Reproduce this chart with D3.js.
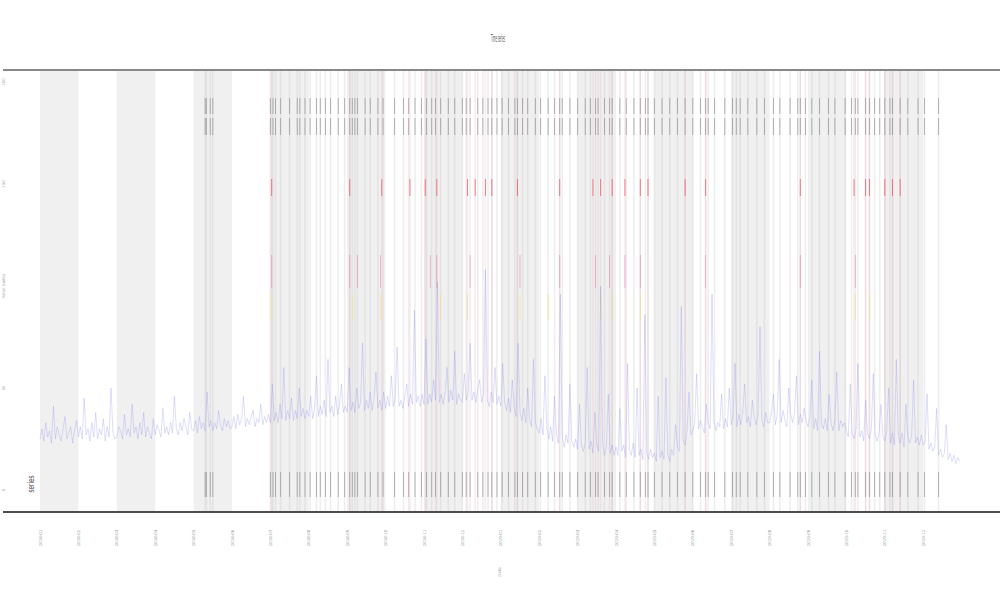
<!DOCTYPE html>
<html><head><meta charset="utf-8">
<script src="https://cdn.jsdelivr.net/npm/d3@7/dist/d3.min.js"></script>
<style>body{margin:0;background:#fff;font-family:"DejaVu Sans",sans-serif}</style>
</head><body><svg id="c" width="1000" height="600"></svg>
<script>
// ---- data ----
const periodLabels = ["2018-01","2018-02","2018-03","2018-04","2018-05","2018-06","2018-07","2018-08","2018-09","2018-10","2018-11","2018-12",
  "2019-01","2019-02","2019-03","2019-04","2019-05","2019-06","2019-07","2019-08","2019-09","2019-10","2019-11","2019-12"];
const yTicks = [0, 50, 100, 150, 200];
const series = [
25,30,24,33,26,29,23,41,25,31,27,24,30,36,25,28,31,23,29,34,
26,31,25,45,27,30,24,33,26,38,25,30,27,35,24,31,26,50,28,25,
26,31,29,25,37,27,30,26,42,28,31,25,33,27,38,26,31,28,25,35,
27,32,29,26,40,28,31,27,33,28,46,30,27,33,29,35,31,27,38,30,
29,34,28,36,30,33,29,48,31,34,29,33,30,39,32,29,35,31,34,30,
31,36,30,37,32,35,46,31,35,32,36,39,31,35,33,42,32,36,33,37,
33,52,34,38,33,42,35,60,34,39,35,45,34,39,35,50,36,40,35,39,
36,46,35,40,56,36,41,37,44,36,64,38,41,36,46,37,42,52,38,41,
38,60,39,43,38,50,40,43,72,39,44,40,48,39,45,58,40,44,39,48,
40,46,41,56,41,45,70,41,44,40,46,52,41,47,42,88,43,46,41,47,
42,74,42,47,43,54,44,102,43,47,42,48,60,43,49,44,68,42,47,44,
43,57,44,48,72,44,48,43,49,54,43,47,108,44,41,48,43,60,42,46,
41,62,43,39,45,38,54,40,36,72,38,34,40,33,50,35,31,64,33,30,
28,35,27,56,30,25,31,24,46,27,23,96,26,21,27,23,52,24,21,25,
20,42,22,19,23,60,20,24,18,38,22,19,100,23,17,21,47,18,22,17,
21,17,40,19,22,16,62,20,17,23,16,50,17,20,15,86,18,15,20,16,
18,14,46,16,19,15,55,17,14,20,17,32,21,19,90,24,22,29,48,27,
29,33,57,30,34,31,28,42,33,30,96,34,29,33,31,47,30,35,31,50,
32,36,62,31,37,32,38,52,33,36,31,44,35,32,37,80,34,31,38,33,
33,38,47,32,37,64,33,39,34,31,50,37,33,38,56,32,37,33,40,34,
31,36,54,30,35,29,68,33,30,35,29,47,33,29,34,58,29,34,31,33,
29,26,52,28,25,30,62,26,29,24,44,28,25,30,57,27,24,28,42,26,
24,29,50,23,28,22,64,27,23,28,21,42,26,23,27,54,23,26,22,27,
22,24,47,20,23,19,21,40,17,20,16,18,32,15,18,14,17,13,16,14
];
const eventDays = [129,130,133,135,180,182,184,188,195,201,203,207,211,216,219,223,227,233,238,242,244,246,248,254,258,264,268,277,284,288,293,298,302,306,309,313,319,324,330,333,336,342,346,350,353,357,361,366,371,373,377,381,387,391,397,402,406,408,414,420,426,430,434,436,441,445,447,453,458,464,469,473,475,480,486,492,498,504,510,516,520,522,527,535,541,544,547,553,560,566,573,578,586,592,594,598,603,609,616,621,629,634,637,639,645,648,652,656,660,664,666,672,678,686,691,702];
const severeDays = [181,242,267,289,301,310,334,340,348,353,373,406,432,438,447,457,469,475,504,520,594,636,645,648,660,666,672];
const moderateDays = [181,242,248,266,305,310,336,375,406,434,445,457,469,520,594,637];
const warnDays = [181,244,266,313,334,375,397,438,447,469,637,648];
const titleText = "Time series";
const xTitle = "Date";
const yTitle = "Value";
const legendText = "series";

// ---- chart ----
const svg = d3.select("#c");
const x = d3.scaleLinear().domain([0, 720]).range([40, 961.6]);
const y = d3.scaleLinear().domain([0, 200]).range([490, 82]);
const plotTop = 71, plotBottom = 511;
const step = 720 / series.length;

// alternating bands
svg.append("g").selectAll("rect").data(periodLabels.map((d,i)=>i).filter(i=>i%2===0))
  .join("rect").attr("x", i=>x(i*30)).attr("width", x(30)-x(0))
  .attr("y", plotTop).attr("height", plotBottom-plotTop).attr("fill", "#f0f0f0");

// faint event columns
svg.append("g").selectAll("line").data(eventDays).join("line")
  .attr("x1", d=>x(d)).attr("x2", d=>x(d)).attr("y1", plotTop).attr("y2", plotBottom)
  .attr("stroke", "#c8c8c8").attr("stroke-width", 1.6).attr("stroke-opacity", 0.3);
svg.append("g").selectAll("line").data(severeDays).join("line")
  .attr("x1", d=>x(d)).attr("x2", d=>x(d)).attr("y1", plotTop).attr("y2", plotBottom)
  .attr("stroke", "#f0b8c8").attr("stroke-width", 1.6).attr("stroke-opacity", 0.3);

// event ticks
function ticks(data, y1, y2, color, op) {
  svg.append("g").selectAll("line").data(data).join("line")
    .attr("x1", d=>x(d)).attr("x2", d=>x(d)).attr("y1", y1).attr("y2", y2)
    .attr("stroke", color).attr("stroke-width", 0.8).attr("stroke-opacity", op);
}
ticks(eventDays, 98, 114, "#555", 0.5);
ticks(eventDays, 118, 135, "#555", 0.5);
ticks(eventDays, 472, 497, "#555", 0.5);
ticks(severeDays, 179, 196, "#ee2233", 0.7);
ticks(moderateDays, 255, 288, "#e04060", 0.4);
ticks(warnDays, 294, 320, "#f0e050", 0.55);

// series line
svg.append("path").datum(series)
  .attr("d", d3.line().x((d,i)=>x(i*step)).y(d=>y(d)))
  .attr("fill", "none").attr("stroke", "#7a7aee").attr("stroke-width", 0.5).attr("stroke-opacity", 0.5);

// frame lines
svg.append("line").attr("x1", 3).attr("x2", 1000).attr("y1", 70).attr("y2", 70).attr("stroke", "#888").attr("stroke-width", 2);
svg.append("line").attr("x1", 3).attr("x2", 1000).attr("y1", 512).attr("y2", 512).attr("stroke", "#111").attr("stroke-width", 1.5);

// y axis labels (tiny, rotated)
svg.append("g").selectAll("text").data(yTicks.filter(v=>v!==100)).join("text")
  .attr("transform", d=>`translate(5,${y(d)}) rotate(-90)`)
  .attr("text-anchor", "middle").attr("font-size", 4).attr("fill", "#aaa").text(d=>d);
svg.append("text").attr("transform", `translate(5,${y(100)}) rotate(-90)`)
  .attr("text-anchor", "middle").attr("font-size", 4).attr("fill", "#aaa").text(yTitle + " (units)");

// x axis labels
svg.append("g").selectAll("text").data(periodLabels).join("text")
  .attr("transform", (d,i)=>`translate(${x(i*30)+1.5},538) rotate(-90)`)
  .attr("text-anchor", "middle").attr("font-size", 4).attr("fill", "#999").text(d=>d);
svg.append("text").attr("transform", "translate(501,572) rotate(-90)")
  .attr("text-anchor", "middle").attr("font-size", 4).attr("fill", "#999").text(xTitle);

// title
svg.append("text").attr("x", 498).attr("y", 42).attr("text-anchor", "middle")
  .attr("font-size", 11).attr("fill", "#555").text(titleText)
  .attr("textLength", 14).attr("lengthAdjust", "spacingAndGlyphs");

// legend
svg.append("text").attr("transform", "translate(34,484) rotate(-90)")
  .attr("text-anchor", "middle").attr("font-size", 8).attr("fill", "#444").text(legendText)
  .attr("textLength", 17).attr("lengthAdjust", "spacingAndGlyphs");
</script></body></html>
